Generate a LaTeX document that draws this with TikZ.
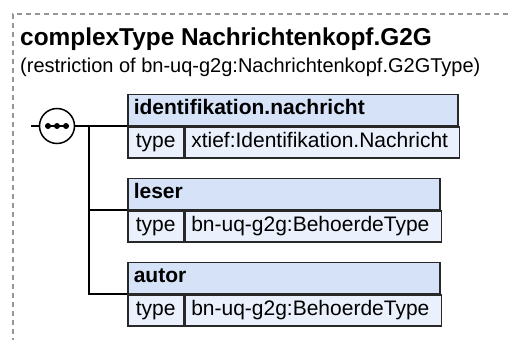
\documentclass[tikz,border=0pt]{standalone}
\usepackage{fontspec}
\setmainfont{Liberation Sans}
\usepackage{tikz}
\usetikzlibrary{positioning}
\definecolor{kopfblau}{RGB}{213,226,247}
\definecolor{zeileblau}{RGB}{234,240,252}
\definecolor{rahmen}{RGB}{40,40,40}
\definecolor{strichgrau}{RGB}{150,150,150}

\begin{document}
\begin{tikzpicture}[x=1pt, y=-1pt,
    kopf/.style={draw=rahmen, fill=kopfblau, line width=1.5pt, anchor=south west, inner sep=0pt,
                 minimum height=31pt, text height=14pt, text depth=4pt,
                 font=\fontsize{21}{24}\selectfont\bfseries, align=left, inner xsep=6pt},
    zelle/.style={draw=rahmen, fill=zeileblau, line width=1.5pt, anchor=north west, inner sep=0pt,
                  minimum height=31pt, text height=14pt, text depth=4pt,
                  font=\fontsize{21}{24}\selectfont, inner xsep=6pt},
    verb/.style={line width=1.5pt, color=black}]
  \useasboundingbox (0,0) rectangle (508,340);
  \draw[strichgrau, line width=1.3pt, dash pattern=on 5pt off 4pt] (508,14) -- (13,14) -- (13,340);
  \node[anchor=base west, inner sep=0pt, font=\fontsize{24.4}{28}\selectfont\bfseries] (titel) at (20,45)
    {complexType Nachrichtenkopf.G2G};
  \node[anchor=base west, inner sep=0pt, font=\fontsize{20}{24}\selectfont] (untertitel) at (20,72)
    {(restriction of bn-uq-g2g:Nachrichtenkopf.G2GType)};
  % Elemente
  \node[kopf, minimum width=330pt, text width=318pt] (idkopf) at (127,126) {identifikation.nachricht};
  \node[zelle, minimum width=56pt] (idtyp) at (idkopf.south west) {type};
  \node[zelle, minimum width=274pt, anchor=north west, align=left, text width=262pt] (idwert) at (idtyp.north east) {xtief:Identifikation.Nachricht};
  \node[kopf, minimum width=312pt, text width=300pt] (lekopf) at (127,210) {leser};
  \node[zelle, minimum width=56pt] (letyp) at (lekopf.south west) {type};
  \node[zelle, minimum width=256pt, align=left, text width=244pt] (lewert) at (letyp.north east) {bn-uq-g2g:BehoerdeType};
  \node[kopf, minimum width=312pt, text width=300pt] (aukopf) at (127,294) {autor};
  \node[zelle, minimum width=56pt] (autyp) at (aukopf.south west) {type};
  \node[zelle, minimum width=256pt, align=left, text width=244pt] (auwert) at (autyp.north east) {bn-uq-g2g:BehoerdeType};
  % Sequenz
  \node[draw, circle, line width=1.5pt, fill=white, minimum size=35pt, inner sep=0pt] (seq) at (57,126) {};
  \draw[line width=1.6pt] ([xshift=-12pt]seq.center) -- ([xshift=12pt]seq.center);
  \foreach \dx in {-9,0,9}
    \fill ([xshift=\dx pt]seq.center) circle (3pt);
  \coordinate (ein) at (31,126);
  \coordinate (ast) at (89,126);
  \draw[verb] (ein) -- (seq);
  \draw[verb] (seq) -- (idkopf.south west);
  \draw[verb] (ast) |- (aukopf.south west);
  \draw[verb] (ast |- lekopf.south west) -- (lekopf.south west);
\end{tikzpicture}
\end{document}
